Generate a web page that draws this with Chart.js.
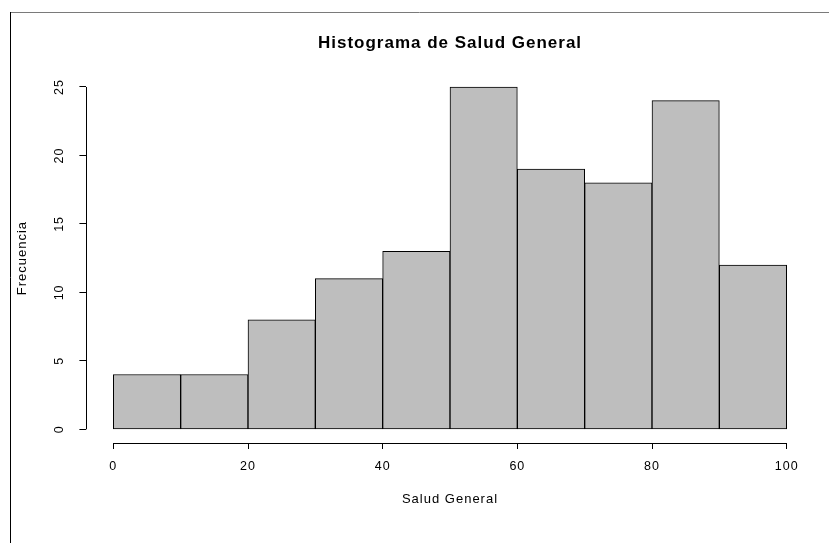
<!DOCTYPE html>
<html>
<head>
<meta charset="utf-8">
<style>
  html, body { margin: 0; padding: 0; background: #fff; }
  #wrap { width: 829px; height: 543px; }
</style>
<script src="https://cdn.jsdelivr.net/npm/chart.js@4.4.1/dist/chart.umd.min.js"></script>
</head>
<body>
<div id="wrap"><canvas id="hist" width="829" height="543"></canvas></div>
<script>
// histogram of "Salud General", bins of width 10
const binEdges = [0, 10, 20, 30, 40, 50, 60, 70, 80, 90, 100];
const counts   = [4, 4, 8, 11, 13, 25, 19, 18, 24, 12];
const xTicks   = [0, 20, 40, 60, 80, 100];
const yTicks   = [0, 5, 10, 15, 20, 25];

const FONT = '"Liberation Sans", Arial, Helvetica, sans-serif';

const points = counts.map((c, i) => ({ x: (binEdges[i] + binEdges[i + 1]) / 2, y: c }));

// R-like axes: lines only span the tick range, y labels rotated
const rAxes = {
  id: 'rAxes',
  beforeDraw(chart) {
    const ctx = chart.ctx;
    ctx.letterSpacing = '1px';
    // frame of the original screenshot
    ctx.save();
    ctx.lineWidth = 1;
    ctx.strokeStyle = '#7a7a7a';
    ctx.beginPath();
    ctx.moveTo(10, 12.5);
    ctx.lineTo(829, 12.5);
    ctx.stroke();
    ctx.strokeStyle = '#000';
    ctx.beginPath();
    ctx.moveTo(10.5, 12);
    ctx.lineTo(10.5, 543);
    ctx.stroke();
    ctx.restore();
  },
  afterDraw(chart) {
    const { ctx, chartArea, scales: { x, y } } = chart;
    const px = (v) => Math.round(v) + 0.5;
    ctx.save();
    ctx.strokeStyle = '#000';
    ctx.lineWidth = 1;
    ctx.beginPath();
    ctx.moveTo(x.getPixelForValue(xTicks[0]), px(chartArea.bottom));
    ctx.lineTo(x.getPixelForValue(xTicks[xTicks.length - 1]), px(chartArea.bottom));
    ctx.moveTo(px(chartArea.left), y.getPixelForValue(yTicks[0]));
    ctx.lineTo(px(chartArea.left), y.getPixelForValue(yTicks[yTicks.length - 1]));
    ctx.stroke();

    ctx.fillStyle = '#000';
    ctx.font = '12.5px ' + FONT;
    ctx.textAlign = 'center';
    ctx.textBaseline = 'middle';
    yTicks.forEach((v) => {
      ctx.save();
      ctx.translate(60, y.getPixelForValue(v));
      ctx.rotate(-Math.PI / 2);
      ctx.fillText(String(v), 0, 0);
      ctx.restore();
    });
    ctx.restore();
  },
};

new Chart(document.getElementById('hist'), {
  type: 'bar',
  data: {
    datasets: [{
      data: points,
      backgroundColor: '#bebebe',
      borderColor: '#000',
      borderWidth: 1,
      borderSkipped: false,
      barPercentage: 1,
      categoryPercentage: 1,
    }],
  },
  options: {
    responsive: false,
    animation: false,
    layout: { padding: { left: 0, right: 15.4, top: 0, bottom: 0 } },
    plugins: {
      legend: { display: false },
      tooltip: { enabled: false },
      title: {
        display: true,
        fullSize: false,
        text: 'Histograma de Salud General',
        color: '#000',
        font: { family: FONT, size: 17, weight: 'bold', lineHeight: 1.2 },
        padding: { top: 33.5, bottom: 19.4 },
      },
    },
    scales: {
      x: {
        type: 'linear',
        min: -4,
        max: 104,
        offset: false,
        afterBuildTicks: (s) => { s.ticks = xTicks.map((v) => ({ value: v })); },
        afterFit: (s) => { s.height = 100; },
        border: { display: false },
        grid: { offset: false, drawOnChartArea: false, drawTicks: true, tickLength: 6, color: '#000' },
        ticks: {
          color: '#000',
          padding: 10,
          maxRotation: 0,
          autoSkip: false,
          font: { family: FONT, size: 12.5 },
          callback: (v) => String(v),
        },
        title: {
          display: true,
          text: 'Salud General',
          color: '#000',
          font: { family: FONT, size: 13, lineHeight: 1.2 },
          padding: { top: 0, bottom: 35.7 },
        },
      },
      y: {
        min: -1,
        max: 26,
        afterBuildTicks: (s) => { s.ticks = yTicks.map((v) => ({ value: v })); },
        afterFit: (s) => { s.width = 86.4; },
        border: { display: false },
        grid: { drawOnChartArea: false, drawTicks: true, tickLength: 7, color: '#000' },
        ticks: { display: false },
        title: {
          display: true,
          text: 'Frecuencia',
          color: '#000',
          font: { family: FONT, size: 13, lineHeight: 1.2 },
          padding: { top: 14.7, bottom: 0 },
        },
      },
    },
  },
  plugins: [rAxes],
});
</script>
</body>
</html>
